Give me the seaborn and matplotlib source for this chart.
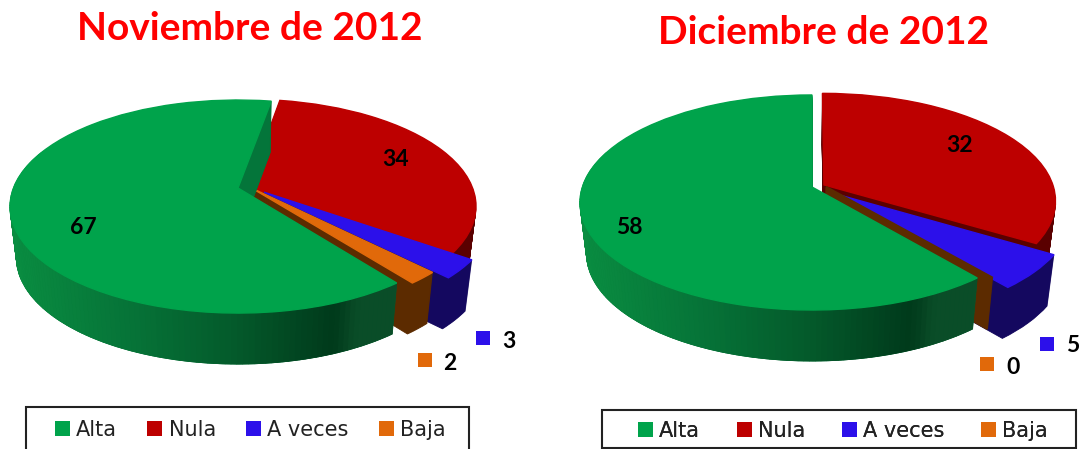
import numpy as np
import seaborn as sns
import matplotlib.pyplot as plt
import matplotlib.transforms as mtransforms
from matplotlib.colors import LinearSegmentedColormap
from matplotlib.patches import Patch, Polygon, Rectangle

categories = ["Alta", "Nula", "A veces", "Baja"]
valores_nov = [67, 34, 3, 2]
valores_dic = [58, 32, 5, 0]
titulo_nov = "Noviembre de 2012"
titulo_dic = "Diciembre de 2012"

sns.set_theme(style="white")
plt.rcParams["font.family"] = ["Lato", "DejaVu Sans"]

face_colors = sns.color_palette(["#00a34b", "#bd0000", "#2c10ea", "#e1690a"])
wall_colors = sns.color_palette(["#04753a", "#5a0000", "#14085f", "#5c2b00"])
green_wall = LinearSegmentedColormap.from_list(
    "green_wall",
    [(0, "#0a8f42"), (0.35, "#067438"), (0.65, "#045a2b"), (0.93, "#003a1b"), (1, "#0a4d28")],
)
DEPTH = 51


class TiltedDisc(mtransforms.Transform):
    """Maps the unit pie circle to the tilted disc on screen, z pixels down."""

    input_dims = 2
    output_dims = 2

    def __init__(self, geo, z=0):
        super().__init__()
        self.geo = geo
        self.z = z

    def transform_non_affine(self, values):
        g = self.geo
        values = np.asarray(values, dtype=float)
        w = 1 + g["k"] * values[:, 1]
        shrink = 1 - 0.028 * self.z / DEPTH
        x = g["cx"] + g["a"] * shrink * values[:, 0] / w
        y = g["cy"] - g["b"] * values[:, 1] / w + self.z
        return np.column_stack([x, y])


def draw_pie(ax, values, geo):
    fractions = np.array(values) / sum(values)
    paint_order = [1, 2, 3, 0]
    # the big slice ends where the clockwise run of the others finishes
    green_end = geo["start"] - 360 * fractions[1:].sum()

    def draw_level(z, colors):
        wedges, _ = ax.pie(
            values,
            colors=colors,
            startangle=green_end,
            counterclock=False,
            wedgeprops={"linewidth": 1.0 if z == 0 else 0.6},
        )
        disc = TiltedDisc(geo, z)
        for i, wedge in enumerate(wedges):
            wedge.set_center(geo["offsets"][i])
            wedge.set_transform(disc + ax.transData)
            wedge.set_zorder(10 + 10 * paint_order.index(i) + (2 if z == 0 else 0))
            wedge.set_edgecolor(colors[i])
            if values[i] == 0:
                wedge.set_linewidth(1.8)

    for z in range(DEPTH, 0, -1):
        draw_level(z, wall_colors)
    top_colors = [wall_colors[i] if values[i] == 0 else face_colors[i] for i in range(4)]
    draw_level(0, top_colors)

    # shaded outer wall of the big slice
    angles = np.radians(np.linspace(green_end, green_end - 150, 120))
    top = TiltedDisc(geo, 0)
    bottom = TiltedDisc(geo, DEPTH)
    for j in range(len(angles) - 1):
        uv = np.column_stack([np.cos(angles[j : j + 2]), np.sin(angles[j : j + 2])])
        quad = np.vstack([top.transform(uv), bottom.transform(uv)[::-1]])
        pos = (quad[:, 0].mean() - geo["cx"] + geo["a"] + 10) / (2 * geo["a"] * 0.79)
        ax.add_patch(
            Polygon(quad, closed=True, color=green_wall(min(pos, 1.0)), lw=0.6, zorder=41)
        )

    # inner wall seen through the gap next to the big slice
    if geo["gap_wall"] > 0:
        edge = np.radians(geo["start"])
        r = geo["gap_wall"]
        du = geo["offsets"][1][0]
        uv = np.array(
            [[0, 0], [r * np.cos(edge), r * np.sin(edge)], [r * np.cos(edge) + du, r * np.sin(edge)], [du, 0]]
        )
        ax.add_patch(Polygon(top.transform(uv), closed=True, color="#047f3c", lw=0, zorder=1))


geo_nov = {
    "cx": 238, "cy": 188, "a": 224.5, "b": 103.3, "k": 0.174, "start": 80, "gap_wall": 0.55,
    "offsets": [(0, 0), (0.045, 0.01), (0.115, -0.04), (0.06, 0)],
}
geo_dic = {
    "cx": 812, "cy": 187, "a": 229.6, "b": 105.3, "k": 0.144, "start": 90, "gap_wall": 0,
    "offsets": [(0, 0), (0.052, 0.02), (0.11, -0.07), (0.06, 0)],
}

fig = plt.figure(figsize=(10.83, 4.49), dpi=100)
ax = fig.add_axes([0, 0, 1, 1])

draw_pie(ax, valores_nov, geo_nov)
draw_pie(ax, valores_dic, geo_dic)

ax.set_aspect("auto")
ax.set_xlim(0, 1083)
ax.set_ylim(449, 0)
ax.axis("off")

ax.text(250, 29, titulo_nov, color="#ff0000", fontsize=28, fontweight="bold", ha="center", va="center")
ax.text(823, 33, titulo_dic, color="#ff0000", fontsize=28, fontweight="bold", ha="center", va="center")

label_style = {"fontsize": 16.5, "fontweight": "bold", "color": "black", "ha": "center", "va": "center", "zorder": 60}
ax.text(83, 227, valores_nov[0], **label_style)
ax.text(396, 160, valores_nov[1], **label_style)
ax.text(509, 341, valores_nov[2], **label_style)
ax.text(450, 364, valores_nov[3], **label_style)
ax.text(629, 227, valores_dic[0], **label_style)
ax.text(960, 146, valores_dic[1], **label_style)
ax.text(1073, 346, valores_dic[2], **label_style)
ax.text(1013, 368, valores_dic[3], **label_style)

ax.scatter([483, 1047], [338, 344], marker="s", s=100, color=face_colors[2], linewidths=0, zorder=60)
ax.scatter([425, 987], [360, 364], marker="s", s=100, color=face_colors[3], linewidths=0, zorder=60)

handles = [Patch(facecolor=c, edgecolor="none", label=n) for c, n in zip(face_colors, categories)]
boxes = [(26, 407, 443, 60), (602, 410, 474, 38)]
legend_anchor = [(55, 430), (638, 431)]
legend_spacing = [1.45, 1.75]
for box, anchor, spacing in zip(boxes, legend_anchor, legend_spacing):
    ax.add_patch(
        Rectangle(box[:2], box[2], box[3], facecolor="white", edgecolor="#222222", lw=1.5, zorder=70)
    )
    leg = ax.legend(
        handles=handles,
        ncol=4,
        loc="center left",
        bbox_to_anchor=anchor,
        bbox_transform=ax.transData,
        frameon=False,
        handlelength=0.72,
        handleheight=0.72,
        handletextpad=0.3,
        columnspacing=spacing,
        borderpad=0,
        borderaxespad=0,
        prop={"family": "DejaVu Sans", "size": 15},
    )
    leg.set_zorder(71)
    for text in leg.get_texts():
        text.set_color("#222222")
    ax.add_artist(leg)

fig.savefig("out.png", dpi=100)
